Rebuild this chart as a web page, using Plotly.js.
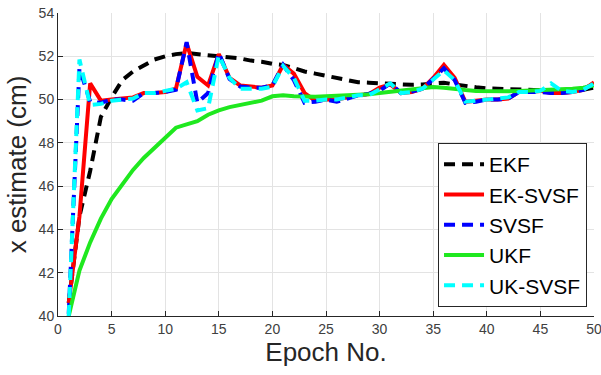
<!DOCTYPE html>
<html>
<head>
<meta charset="utf-8">
<script src="https://cdn.plot.ly/plotly-3.0.1.min.js"></script>
<style>
  html, body { margin: 0; padding: 0; background: #fff; }
  #chart { width: 601px; height: 375px; }
</style>
</head>
<body>
<div id="chart"></div>
<script>
// Position estimate per epoch for each filter
const epochs = Array.from({length: 50}, (_, i) => i + 1);

const ekf = [40.6, 44.6, 46.7, 49.2, 50.1, 50.9, 51.3, 51.6, 51.85, 52.0,
             52.1, 52.15, 52.1, 52.05, 52.0, 51.95, 51.9, 51.8, 51.75, 51.65,
             51.6, 51.45, 51.3, 51.2, 51.1, 51.0, 50.9, 50.8, 50.78, 50.75,
             50.72, 50.7, 50.68, 50.7, 50.75, 50.78, 50.7, 50.62, 50.57, 50.52,
             50.5, 50.47, 50.45, 50.42, 50.4, 50.4, 50.4, 50.42, 50.45, 50.55];

const ekSvsf = [40.6, 44.6, 50.75, 49.95, 50.0, 50.05, 50.1, 50.3, 50.3, 50.35,
                50.5, 52.6, 51.05, 50.65, 52.1, 51.0, 50.65, 50.6, 50.55, 50.65,
                51.6, 51.2, 50.3, 49.95, 50.0, 50.0, 50.1, 50.2, 50.25, 50.55,
                50.7, 50.3, 50.35, 50.5, 51.0, 51.6, 51.0, 49.9, 49.95, 50.0,
                50.0, 50.05, 50.35, 50.35, 50.4, 50.3, 50.3, 50.35, 50.45, 50.8];

const svsf = [40.1, 51.45, 49.9, 49.85, 50.0, 50.0, 49.95, 50.3, 50.3, 50.35,
              50.45, 52.65, 49.85, 50.3, 52.15, 50.95, 50.6, 50.55, 50.55, 50.65,
              51.6, 50.9, 49.85, 49.9, 50.0, 49.9, 50.05, 50.2, 50.27, 50.4,
              50.75, 50.3, 50.37, 50.5, 50.95, 51.45, 50.9, 49.85, 49.9, 50.0,
              50.0, 50.05, 50.35, 50.35, 50.35, 50.3, 50.3, 50.35, 50.45, 50.8];

const ukf = [40.0, 42.1, 43.4, 44.5, 45.4, 46.1, 46.75, 47.3, 47.75, 48.2,
             48.7, 48.85, 49.0, 49.3, 49.5, 49.65, 49.75, 49.85, 49.95, 50.15,
             50.2, 50.15, 50.13, 50.13, 50.15, 50.17, 50.2, 50.22, 50.25, 50.3,
             50.35, 50.4, 50.45, 50.5, 50.58, 50.55, 50.48, 50.44, 50.4, 50.38,
             50.37, 50.38, 50.4, 50.42, 50.43, 50.44, 50.45, 50.5, 50.55, 50.65];

const ukSvsf = [40.0, 51.85, 49.75, 49.8, 49.95, 50.0, 50.05, 50.3, 50.3, 50.4,
                50.5, 50.8, 49.5, 49.6, 52.05, 51.0, 50.5, 50.5, 50.5, 50.6,
                51.55, 51.0, 49.95, 49.95, 50.0, 50.0, 50.1, 50.2, 50.2, 50.45,
                50.75, 50.3, 50.35, 50.5, 50.95, 51.35, 50.9, 49.9, 49.95, 50.0,
                50.05, 50.1, 50.35, 50.35, 50.4, 50.75, 50.4, 50.35, 50.45, 50.75];

const seriesNames = ['EKF', 'EK-SVSF', 'SVSF', 'UKF', 'UK-SVSF'];
const xTicks = [0, 5, 10, 15, 20, 25, 30, 35, 40, 45, 50];
const yTicks = [40, 42, 44, 46, 48, 50, 52, 54];

const FONT = 'Liberation Sans, Arial, Helvetica, sans-serif';
const DASH = '11px,7px';
const W = 4;

const traces = [
  {y: ekf,    name: seriesNames[0], line: {color: '#000000', width: W, dash: DASH}},
  {y: ekSvsf, name: seriesNames[1], line: {color: '#ff0000', width: W}},
  {y: svsf,   name: seriesNames[2], line: {color: '#0000ff', width: W, dash: DASH}},
  {y: ukf,    name: seriesNames[3], line: {color: '#1fe81f', width: W}},
  {y: ukSvsf, name: seriesNames[4], line: {color: '#00ffff', width: W, dash: DASH}}
].map(t => Object.assign({x: epochs, type: 'scatter', mode: 'lines'}, t));

const axisCommon = {
  showline: true,
  linecolor: '#262626',
  linewidth: 1,
  mirror: false,
  ticks: 'inside',
  ticklen: 5,
  tickcolor: '#262626',
  tickwidth: 1,
  showgrid: true,
  gridcolor: '#e3e3e3',
  gridwidth: 1,
  zeroline: false,
  ticklabeloverflow: 'allow',
  tickfont: {family: FONT, size: 14, color: '#404040'}
};

const layout = {
  width: 601,
  height: 375,
  margin: {l: 58, r: 7, t: 13, b: 59},
  paper_bgcolor: '#ffffff',
  plot_bgcolor: '#ffffff',
  showlegend: true,
  xaxis: Object.assign({}, axisCommon, {
    range: [0, 50],
    tickmode: 'array',
    tickvals: xTicks,
    ticktext: xTicks.map(String),
    title: {text: 'Epoch No.', font: {family: FONT, size: 26, color: '#262626'}, standoff: 7}
  }),
  yaxis: Object.assign({}, axisCommon, {
    range: [40, 54],
    tickmode: 'array',
    tickvals: yTicks,
    ticktext: yTicks.map(String),
    title: {text: 'x estimate (cm)', font: {family: FONT, size: 26, color: '#262626'}, standoff: 4}
  }),
  legend: {
    x: 0.709,
    y: 0.571,
    xanchor: 'left',
    yanchor: 'top',
    bgcolor: '#ffffff',
    bordercolor: '#262626',
    borderwidth: 1,
    font: {family: FONT, size: 21, color: '#000000'},
    tracegroupgap: 0,
    itemwidth: 40
  }
};

Plotly.newPlot('chart', traces, layout, {displayModeBar: false, staticPlot: true});
</script>
</body>
</html>
